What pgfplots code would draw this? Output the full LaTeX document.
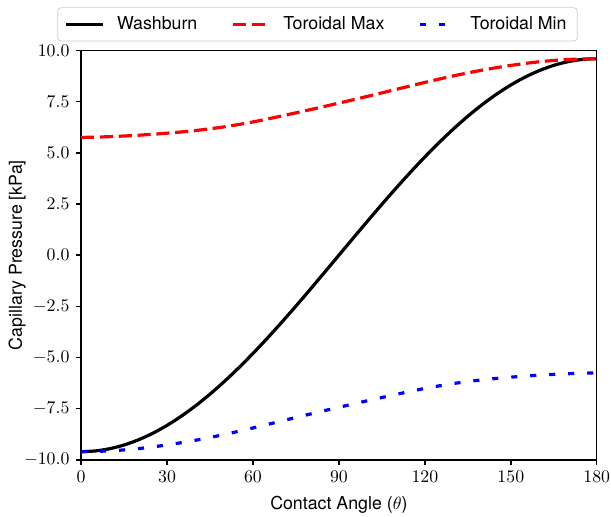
\documentclass[border=0pt]{standalone}
\usepackage{fontspec}
\setmainfont{TeX Gyre Heros}
\usepackage{pgfplots}
\pgfplotsset{compat=1.18}
\usepackage{pgfplotstable}

\pgfplotstableread{
x y
0 -9.600
5 -9.563
10 -9.454
15 -9.273
20 -9.021
25 -8.701
30 -8.314
35 -7.864
40 -7.354
45 -6.788
50 -6.171
55 -5.506
60 -4.800
65 -4.057
70 -3.283
75 -2.485
80 -1.667
85 -0.837
90 0.000
95 0.837
100 1.667
105 2.485
110 3.283
115 4.057
120 4.800
125 5.506
130 6.171
135 6.788
140 7.354
145 7.864
150 8.314
155 8.701
160 9.021
165 9.273
170 9.454
175 9.563
180 9.600
}\washburn

\pgfplotstableread{
x y
0 5.75
10 5.79
20 5.86
30 5.96
40 6.09
50 6.27
60 6.51
70 6.80
80 7.11
90 7.43
100 7.76
110 8.10
120 8.44
130 8.76
140 9.04
150 9.27
160 9.45
170 9.56
180 9.60
}\tormax

\pgfplotstableread{
x y
0 -9.60
10 -9.56
20 -9.45
30 -9.27
40 -9.04
50 -8.76
60 -8.44
70 -8.10
80 -7.76
90 -7.43
100 -7.11
110 -6.80
120 -6.51
130 -6.27
140 -6.09
150 -5.96
160 -5.86
170 -5.79
180 -5.75
}\tormin

\begin{document}
\begin{tikzpicture}
\begin{axis}[
  name=ax,
  scale only axis,
  width=290.1pt, height=230.3pt,
  xmin=0, xmax=180, ymin=-10, ymax=10,
  xtick={0,30,...,180},
  ytick={-10,-7.5,...,10},
  yticklabel style={/pgf/number format/.cd, fixed, fixed zerofill, precision=1},
  tick align=outside,
  xtick pos=bottom, ytick pos=left,
  major tick length=3pt,
  every tick/.style={black, line width=0.8pt},
  axis line style={line width=0.8pt},
  tick label style={font=\fontsize{10}{12}\selectfont},
  label style={font=\fontsize{10}{12}\selectfont},
  xlabel={Contact Angle ($\theta$)},
  ylabel={Capillary Pressure [kPa]},
  x label style={at={(axis description cs:0.5,-0.110)}, anchor=center},
  y label style={at={(axis description cs:-0.124,0.5)}, anchor=center, rotate=0},
  legend columns=3,
  legend cell align=left,
  legend image code/.code={\draw[#1] (0pt,0pt) -- (20.6pt,0pt);},
  legend style={
    at={(-0.046,1.1055)}, anchor=north west,
    draw=black!20, rounded corners=2pt, fill=white,
    font=\fontsize{10}{12}\selectfont,
    /tikz/every odd column/.append style={column sep=5pt},
    /tikz/every even column/.append style={column sep=17pt},
    inner xsep=4pt, inner ysep=3pt,
  },
]
\addplot[black, line width=1.8pt, smooth] table[x=x, y=y] {\washburn};
\addlegendentry{Washburn}
\addplot[red, line width=1.8pt, smooth, dash pattern=on 7.4pt off 3.2pt] table[x=x, y=y] {\tormax};
\addlegendentry{Toroidal Max}
\addplot[blue, line width=1.8pt, smooth, dash pattern=on 3.4pt off 7.3pt] table[x=x, y=y] {\tormin};
\addlegendentry{Toroidal Min}
\end{axis}
\pgfresetboundingbox
\useasboundingbox ([shift={(-45.6pt,-32.1pt)}]ax.south west) rectangle ([shift={(8pt,28.4pt)}]ax.north east);
\end{tikzpicture}
\end{document}
